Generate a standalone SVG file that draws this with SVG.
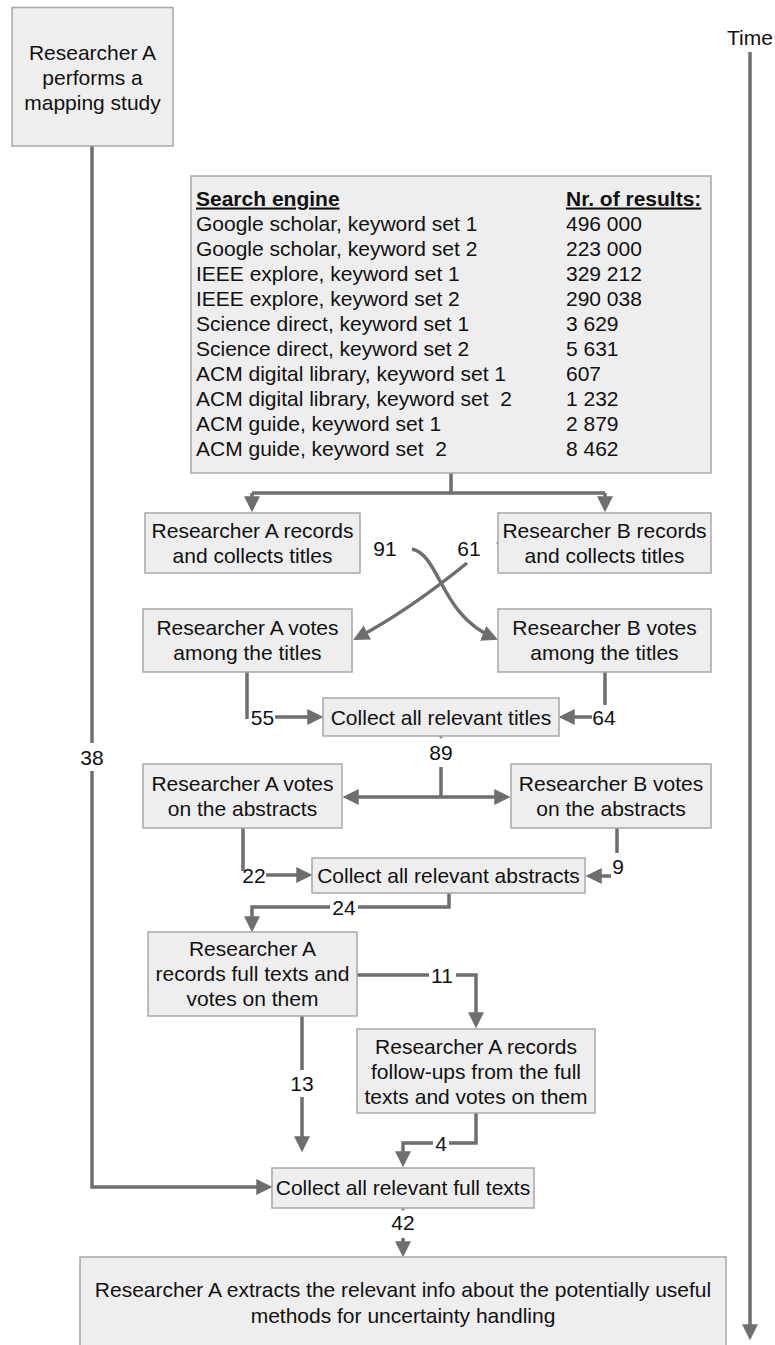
<svg xmlns="http://www.w3.org/2000/svg" width="775" height="1345" viewBox="0 0 775 1345">
<style>
  .box { fill: #eeeeee; stroke: #a8a8a8; stroke-width: 1.5; }
  text { font-family: "Liberation Sans", Arial, sans-serif; font-size: 21px; fill: #111111; }
  .c { text-anchor: middle; }
  .hdr { font-weight: bold; text-decoration: underline; }
  .conn { fill: none; stroke: #6e6e6e; stroke-width: 3.5; }
  .arr { marker-end: url(#ah); }
  .dot { fill: #8a8a8a; }
</style>
<defs>
  <marker id="ah" markerUnits="userSpaceOnUse" markerWidth="16" markerHeight="16" viewBox="0 0 15 15" refX="11" refY="7.5" orient="auto">
    <path d="M0,0 L15,7.5 L0,15 z" fill="#6e6e6e"/>
  </marker>
</defs>

<g id="connectors">
  <!-- mapping study to collect full texts -->
  <path class="conn" d="M92,146 V743"/>
  <path class="conn arr" d="M92,771 V1187 H268"/>
  <!-- time axis -->
  <path class="conn arr" d="M750,52 V1336"/>
  <!-- table to records -->
  <path class="conn" d="M451,473 V493 M252,493 H605"/>
  <path class="conn arr" d="M252,493 V508"/>
  <path class="conn arr" d="M605,493 V508"/>
  <circle class="dot" cx="359" cy="543" r="1.6"/>
  <circle class="dot" cx="498" cy="543" r="1.6"/>
  <!-- crossing curves -->
  <path class="conn arr" d="M412,549 C440,555 440,615 494,638"/>
  <path class="conn arr" d="M467,563 C440,585 400,615 357,638"/>
  <!-- votes to collect titles -->
  <path class="conn" d="M247,672 V719"/>
  <path class="conn arr" d="M275,717 H319"/>
  <path class="conn" d="M605,672 V705"/>
  <path class="conn arr" d="M592,717 H563"/>
  <!-- collect titles to abstracts -->
  <circle class="dot" cx="441" cy="737" r="1.6"/>
  <path class="conn" d="M441,767 V797"/>
  <path class="conn arr" d="M441,797 H347"/>
  <path class="conn arr" d="M441,797 H506"/>
  <!-- abstracts to collect abstracts -->
  <path class="conn" d="M243,828 V871"/>
  <path class="conn arr" d="M266,875 H308"/>
  <path class="conn" d="M617,828 V853"/>
  <path class="conn arr" d="M611,876 H590"/>
  <!-- collect abstracts to full texts -->
  <path class="conn" d="M449,893 V907 H358"/>
  <path class="conn arr" d="M330,907 H252 V928"/>
  <!-- full texts to follow-ups -->
  <path class="conn" d="M357,975 H429"/>
  <path class="conn arr" d="M456,975 H476 V1024"/>
  <!-- full texts to collect full texts -->
  <path class="conn" d="M302,1016 V1070"/>
  <path class="conn arr" d="M302,1097 V1148"/>
  <!-- follow-ups to collect full texts -->
  <path class="conn" d="M476,1113 V1143 H449"/>
  <path class="conn arr" d="M433,1143 H403 V1163"/>
  <!-- collect full texts to extraction -->
  <circle class="dot" cx="403" cy="1209" r="1.6"/>
  <path class="conn arr" d="M403,1238 V1253"/>
</g>

<g id="connector-labels">
  <text class="c" x="92" y="764.5">38</text>
  <text class="c" x="385" y="555.5">91</text>
  <text class="c" x="469" y="555.5">61</text>
  <text class="c" x="262.5" y="724.5">55</text>
  <text class="c" x="604" y="724.5">64</text>
  <text class="c" x="441" y="759.5">89</text>
  <text class="c" x="254" y="882.5">22</text>
  <text class="c" x="618" y="874">9</text>
  <text class="c" x="344" y="914.5">24</text>
  <text class="c" x="442" y="982.5">11</text>
  <text class="c" x="302" y="1090.5">13</text>
  <text class="c" x="441" y="1150.5">4</text>
  <text class="c" x="403" y="1229.5">42</text>
</g>

<g id="time-label">
  <text class="c" x="750" y="44.5">Time</text>
</g>

<g id="node-mapping-study">
  <rect class="box" x="12" y="7.5" width="161" height="138.5"/>
  <text class="c" x="92.5" y="59.5">Researcher A</text>
  <text class="c" x="92.5" y="84.5">performs a</text>
  <text class="c" x="92.5" y="109.5">mapping study</text>
</g>

<g id="node-search-table">
  <rect class="box" x="191" y="176" width="520" height="297"/>
  <text class="hdr" x="196" y="205.5">Search engine</text>
  <text class="hdr" x="566" y="205.5">Nr. of results:</text>
  <text x="196" y="230.5">Google scholar, keyword set 1</text>
  <text x="566" y="230.5">496 000</text>
  <text x="196" y="255.5">Google scholar, keyword set 2</text>
  <text x="566" y="255.5">223 000</text>
  <text x="196" y="280.5">IEEE explore, keyword set 1</text>
  <text x="566" y="280.5">329 212</text>
  <text x="196" y="305.5">IEEE explore, keyword set 2</text>
  <text x="566" y="305.5">290 038</text>
  <text x="196" y="330.5">Science direct, keyword set 1</text>
  <text x="566" y="330.5">3 629</text>
  <text x="196" y="355.5">Science direct, keyword set 2</text>
  <text x="566" y="355.5">5 631</text>
  <text x="196" y="380.5">ACM digital library, keyword set 1</text>
  <text x="566" y="380.5">607</text>
  <text x="196" y="405.5" xml:space="preserve">ACM digital library, keyword set  2</text>
  <text x="566" y="405.5">1 232</text>
  <text x="196" y="430.5">ACM guide, keyword set 1</text>
  <text x="566" y="430.5">2 879</text>
  <text x="196" y="455.5" xml:space="preserve">ACM guide, keyword set  2</text>
  <text x="566" y="455.5">8 462</text>
</g>

<g id="node-a-records-titles">
  <rect class="box" x="145" y="513" width="215" height="60"/>
  <text class="c" x="252.5" y="537.5">Researcher A records</text>
  <text class="c" x="252.5" y="562.5">and collects titles</text>
</g>

<g id="node-b-records-titles">
  <rect class="box" x="498" y="513" width="213" height="60"/>
  <text class="c" x="604.5" y="537.5">Researcher B records</text>
  <text class="c" x="604.5" y="562.5">and collects titles</text>
</g>

<g id="node-a-votes-titles">
  <rect class="box" x="143" y="609" width="209" height="63"/>
  <text class="c" x="247.5" y="635">Researcher A votes</text>
  <text class="c" x="247.5" y="660">among the titles</text>
</g>

<g id="node-b-votes-titles">
  <rect class="box" x="498" y="609" width="213" height="63"/>
  <text class="c" x="604.5" y="635">Researcher B votes</text>
  <text class="c" x="604.5" y="660">among the titles</text>
</g>

<g id="node-collect-titles">
  <rect class="box" x="323" y="698" width="236" height="38"/>
  <text class="c" x="441" y="724.5">Collect all relevant titles</text>
</g>

<g id="node-a-votes-abstracts">
  <rect class="box" x="143" y="764" width="199" height="64"/>
  <text class="c" x="242.5" y="790.5">Researcher A votes</text>
  <text class="c" x="242.5" y="815.5">on the abstracts</text>
</g>

<g id="node-b-votes-abstracts">
  <rect class="box" x="511" y="764" width="200" height="64"/>
  <text class="c" x="611" y="790.5">Researcher B votes</text>
  <text class="c" x="611" y="815.5">on the abstracts</text>
</g>

<g id="node-collect-abstracts">
  <rect class="box" x="312" y="858" width="273" height="35"/>
  <text class="c" x="448.5" y="883">Collect all relevant abstracts</text>
</g>

<g id="node-a-full-texts">
  <rect class="box" x="148" y="932" width="209" height="84"/>
  <text class="c" x="252.5" y="955.5">Researcher A</text>
  <text class="c" x="252.5" y="980.5">records full texts and</text>
  <text class="c" x="252.5" y="1005.5">votes on them</text>
</g>

<g id="node-follow-ups">
  <rect class="box" x="357" y="1029" width="238" height="84"/>
  <text class="c" x="476" y="1053.5">Researcher A records</text>
  <text class="c" x="476" y="1078.5">follow-ups from the full</text>
  <text class="c" x="476" y="1103.5">texts and votes on them</text>
</g>

<g id="node-collect-full-texts">
  <rect class="box" x="272" y="1168" width="262" height="40"/>
  <text class="c" x="403" y="1195">Collect all relevant full texts</text>
</g>

<g id="node-extract-info">
  <rect class="box" x="80" y="1257" width="646" height="100"/>
  <text class="c" x="403" y="1296.5">Researcher A extracts the relevant info about the potentially useful</text>
  <text class="c" x="403" y="1322.5">methods for uncertainty handling</text>
</g>
</svg>
